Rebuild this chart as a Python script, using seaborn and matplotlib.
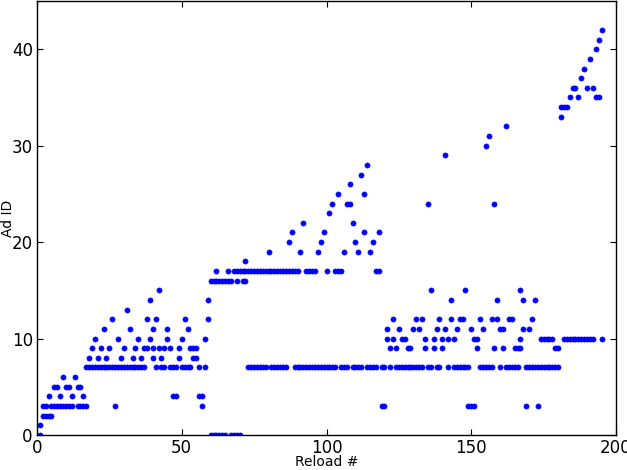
import matplotlib
matplotlib.use("Agg")
import matplotlib.pyplot as plt
import seaborn as sns
import pandas as pd

# Reload numbers at which each Ad ID was seen
ad00 = [1, 60, 61, 62, 63, 64, 65, 67, 68, 69, 70]
ad01 = [1]
ad02 = [2, 3, 4, 5]
ad03 = [2, 3, 5, 6, 7, 8, 9, 10, 11, 12, 14, 15, 16, 17, 27, 57, 119, 120,
        149, 150, 151, 169, 173]
ad04 = [4, 8, 12, 16, 47, 48, 56, 57]
ad05 = [6, 7, 10, 11, 14, 15]
ad06 = [9, 13]
ad07 = [17, 18, 19, 20, 21, 22, 23, 24, 25, 26, 27, 28, 29, 30, 31, 32, 33,
        34, 35, 36, 37, 41, 43, 44, 46, 47, 48, 50, 51, 52, 53, 56, 58,
        73, 74, 75, 76, 77, 78, 79, 81, 82, 83, 84, 85, 86,
        89, 90, 91, 92, 93, 94, 95, 96, 97, 98, 99, 100, 101, 102, 103,
        105, 106, 107, 109, 110, 111, 112, 114, 115, 116, 117, 119, 120, 122,
        124, 125, 126, 127, 128, 129, 130, 131, 132, 133, 135, 136, 138, 139,
        142, 144, 145, 146, 147, 148, 149, 153, 154, 155, 156, 157, 160,
        162, 163, 164, 165, 166, 169, 170, 171, 172, 173, 174, 175, 176, 177,
        178, 179, 180]
ad08 = [18, 21, 24, 29, 33, 36, 40, 43, 49, 54, 55]
ad09 = [19, 22, 25, 30, 34, 37, 38, 40, 42, 44, 46, 49, 53, 54, 55, 122, 124,
        128, 129, 134, 137, 140, 152, 158, 161, 165, 166, 167, 179, 180]
ad10 = [20, 28, 35, 39, 45, 50, 58, 121, 123, 126, 127, 134, 137, 140, 142,
        144, 151, 152, 167, 174, 175, 176, 177, 178, 182, 183, 184, 185, 186,
        187, 188, 189, 190, 191, 192, 195]
ad11 = [23, 32, 40, 45, 52, 121, 125, 130, 132, 138, 141, 145, 150, 154, 160,
        161, 168, 170]
ad12 = [26, 38, 41, 51, 59, 123, 131, 133, 139, 143, 146, 147, 153, 157, 159,
        163, 164, 171]
ad13 = [31]
ad14 = [39, 59, 143, 159, 168, 172]
ad15 = [42, 136, 148, 167]
ad16 = [60, 61, 62, 63, 64, 65, 66, 67, 69, 71, 72]
ad17 = [62, 66, 68, 69, 70, 71, 72, 73, 74, 75, 76, 77, 78, 79, 80, 81, 82,
        83, 84, 85, 86, 87, 88, 89, 90, 93, 94, 95, 96, 100, 103, 104, 105,
        117, 118]
ad18 = [72]
ad19 = [80, 91, 97, 106, 111, 115]
ad20 = [87, 98, 110, 116]
ad21 = [88, 99, 113, 118]
ad22 = [92, 109]
ad23 = [101]
ad24 = [102, 107, 108, 135, 158]
ad25 = [104, 113]
ad26 = [108]
ad27 = [112]
ad28 = [114]
ad29 = [141]
ad30 = [155]
ad31 = [156]
ad32 = [162]
ad33 = [181]
ad34 = [181, 182, 183]
ad35 = [184, 187, 193, 194]
ad36 = [185, 186, 190, 192]
ad37 = [188]
ad38 = [189]
ad39 = [191]
ad40 = [193]
ad41 = [194]
ad42 = [195]

ad_lists = [ad00, ad01, ad02, ad03, ad04, ad05, ad06, ad07, ad08, ad09, ad10,
            ad11, ad12, ad13, ad14, ad15, ad16, ad17, ad18, ad19, ad20, ad21,
            ad22, ad23, ad24, ad25, ad26, ad27, ad28, ad29, ad30, ad31, ad32,
            ad33, ad34, ad35, ad36, ad37, ad38, ad39, ad40, ad41, ad42]

rows = []
for ad_id, reloads in enumerate(ad_lists):
    for r in reloads:
        rows.append((r, ad_id))
df = pd.DataFrame(rows, columns=["Reload #", "Ad ID"])

plt.rcParams.update({
    "font.family": ["DejaVu Sans"],
    "font.size": 12,
    "xtick.direction": "in",
    "ytick.direction": "in",
    "xtick.top": True,
    "ytick.right": True,
    "xtick.major.size": 4,
    "ytick.major.size": 4,
    "xtick.major.pad": 3,
    "ytick.major.pad": 3,
    "axes.linewidth": 1.0,
})

fig = plt.figure(figsize=(6.27, 4.70), dpi=100)
ax = fig.add_axes([37 / 627, 35 / 470, (616 - 37) / 627, (469 - 35) / 470])
sns.scatterplot(data=df, x="Reload #", y="Ad ID", color="#0000ff",
                edgecolor="#0000ff", linewidth=0.4, s=14, ax=ax, legend=False)
ax.set_xlim(0, 200)
ax.set_ylim(0, 45)
ax.set_xticks([0, 50, 100, 150, 200])
ax.set_yticks([0, 10, 20, 30, 40])
ax.tick_params(labelsize=12)
ax.set_xlabel("Reload #", fontsize=10)
ax.set_ylabel("Ad ID", fontsize=10)
ax.xaxis.set_label_coords(0.5, -0.047)
ax.yaxis.set_label_coords(-0.038, 0.5)
fig.savefig("out.png", dpi=100, facecolor="white")
